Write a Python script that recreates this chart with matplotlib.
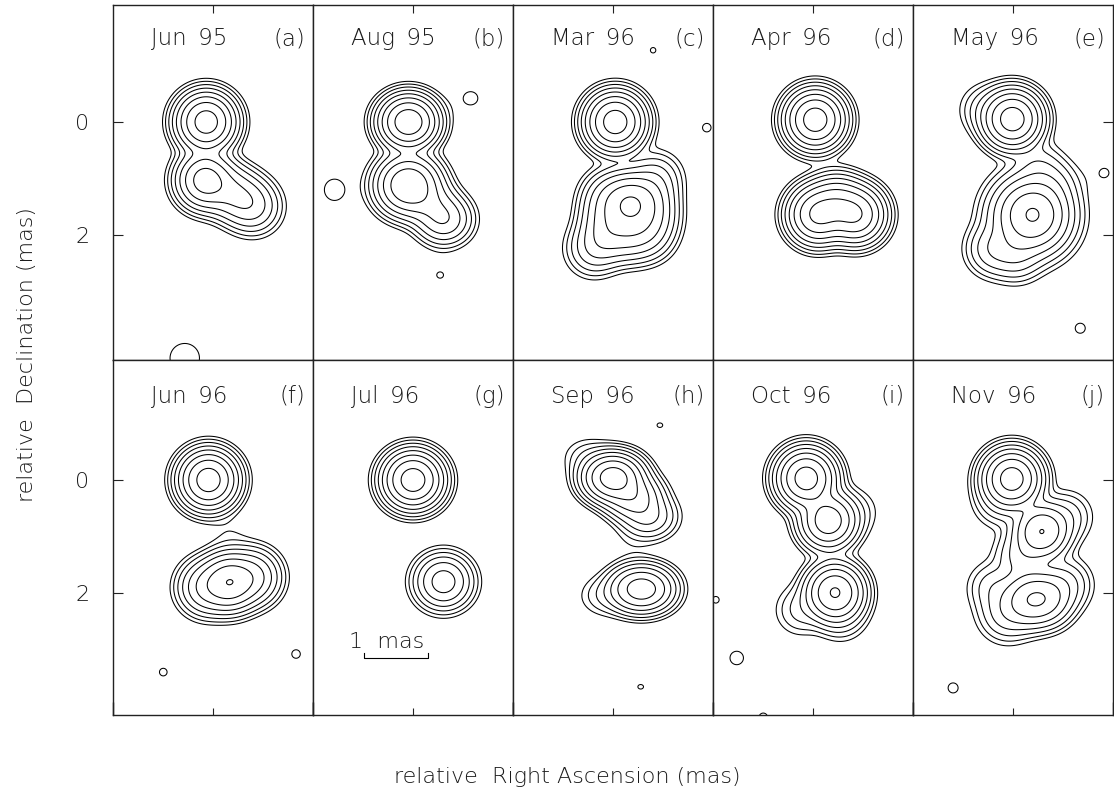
import numpy as np
import matplotlib
matplotlib.use("Agg")
import matplotlib.pyplot as plt

# ---------------- data ----------------
dates = ["Jun\u200295", "Aug\u200295", "Mar\u200296", "Apr\u200296", "May\u200296",
         "Jun\u200296", "Jul\u200296", "Sep\u200296", "Oct\u200296", "Nov\u200296"]
letters = ["(a)", "(b)", "(c)", "(d)", "(e)", "(f)", "(g)", "(h)", "(i)", "(j)"]
levels = [1, 2, 4, 8, 16, 32, 64, 128, 256]
ytick_vals = [0, 2]
# restoring beam per epoch: (sigma RA, sigma Dec) in mas
beams = [(0.24, 0.24), (0.24, 0.22), (0.24, 0.24), (0.24, 0.24), (0.24, 0.24),
         (0.24, 0.24), (0.245, 0.235), (0.25, 0.20), (0.24, 0.24), (0.24, 0.24)]

# components: (RA offset mas, Dec offset mas, peak, intrinsic size mas)
comps_a = [(0.12, 0.00, 180, 0), (0.14, 1.03, 90, 0), (-0.25, 1.20, 22, 0),
           (-0.50, 1.35, 20, 0), (-0.72, 1.50, 17, 0), (0.50, 4.18, 1.8, 0)]
comps_b = [(0.08, 0.00, 210, 0), (0.08, 1.12, 125, 0.12), (-0.30, 1.45, 20, 0),
           (-0.55, 1.72, 30, 0), (1.39, 1.06, 0.5, 0), (1.39, 1.20, 0.5, 0),
           (1.39, 1.34, 0.5, 0), (-1.02, -0.42, 1.15, 0), (-0.48, 2.71, 1.03, 0)]
comps_c = [(-0.04, 0.00, 185, 0), (-0.30, 1.45, 75, 0),
           (0.05, 1.35, 27, 0), (-0.30, 1.35, 27, 0), (-0.62, 1.35, 27, 0),
           (0.08, 1.70, 27, 0), (-0.30, 1.70, 27, 0), (-0.65, 1.68, 27, 0),
           (0.10, 2.02, 27, 0), (-0.28, 2.00, 25, 0), (-0.60, 1.98, 18, 0),
           (0.35, 2.25, 12, 0), (-0.75, 1.00, 10, 0),
           (-1.66, 0.10, 1.05, 0), (-0.71, -1.27, 1.02, 0)]
comps_d = [(-0.04, -0.04, 185, 0), (-0.08, 1.64, 140, 0), (-0.76, 1.64, 128, 0),
           (-0.42, 1.46, 85, 0)]
comps_e = [(0.01, -0.05, 185, 0), (0.50, -0.22, 5, 0), (-0.32, 1.66, 100, 0.24),
           (-0.38, 1.62, 38, 0), (0.35, 2.25, 14, 0), (-0.05, 2.35, 12, 0),
           (-0.72, 1.10, 6, 0), (-0.45, 0.80, 6, 0),
           (-1.62, 0.90, 1.05, 0), (-1.19, 3.65, 1.07, 0)]
comps_f = [(0.08, 0.00, 185, 0), (0.12, 1.90, 35, 0), (-0.29, 1.81, 114, 0),
           (-0.70, 1.72, 40, 0), (-0.30, 1.00, 0.9, 0),
           (0.88, 3.40, 1.04, 0), (-1.47, 3.08, 1.05, 0)]
comps_g = [(0.00, 0.00, 185, 0), (-0.54, 1.80, 45, 0)]
comps_h = [(0.00, -0.04, 190, 0), (-0.35, 0.30, 50, 0), (-0.62, 0.65, 18, 0),
           (0.45, -0.40, 3, 0), (-0.40, 1.93, 55, 0), (-0.62, 1.93, 50, 0),
           (0.15, 2.05, 3.5, 0), (-0.30, 1.15, 0.6, 0),
           (-0.83, -0.97, 1.02, 0), (-0.49, 3.66, 1.02, 0)]
comps_i = [(0.12, -0.03, 180, 0), (-0.27, 0.72, 100, 0), (-0.39, 1.99, 135, 0),
           (-0.78, 0.55, 2, 0), (-0.50, 2.40, 5, 0), (0.22, 2.30, 5, 0),
           (1.35, 3.15, 1.13, 0), (0.88, 4.20, 1.05, 0), (1.72, 2.12, 1.03, 0)]
comps_j = [(0.02, -0.02, 180, 0), (-0.51, 0.91, 63.4, 0), (-0.28, 2.12, 45, 0),
           (-0.58, 2.10, 40, 0), (0.25, 0.40, 5, 0.05), (-0.15, 1.35, 10, 0.05),
           (0.10, 2.35, 12, 0.1), (-0.95, 0.65, 6, 0), (-0.92, 1.85, 10, 0),
           (0.35, 1.90, 6, 0), (1.06, 3.68, 1.07, 0)]
components = [comps_a, comps_b, comps_c, comps_d, comps_e,
              comps_f, comps_g, comps_h, comps_i, comps_j]

# ---------------- layout ----------------
W, H = 1114, 791
plt.rcParams["font.family"] = ["DejaVu Sans"]
fig = plt.figure(figsize=(W / 100, H / 100), dpi=100)
FS = 16
TXT = "#1a1a1a"
FW = "light"

ra = np.linspace(-1.85, 1.85, 460)
de = np.linspace(-2.25, 4.3, 820)
RA, DE = np.meshgrid(ra, de)

row_top = [5, 360]
row_zero = [122, 480]
ppm = 56.5  # pixels per mas
xhalf = 100 / ppm

for i in range(10):
    r, c = divmod(i, 5)
    top_px = row_top[r]
    ax = fig.add_axes([(113 + 200 * c) / W, 1 - (top_px + 355) / H, 200 / W, 355 / H])
    sx, sy = beams[i]
    field = np.zeros_like(RA)
    for (x0, y0, p, s) in components[i]:
        vx = sx ** 2 + s ** 2
        vy = sy ** 2 + s ** 2
        field += p * np.exp(-(RA - x0) ** 2 / (2 * vx) - (DE - y0) ** 2 / (2 * vy))
    ax.contour(RA, DE, field, levels=levels, colors="black", linewidths=0.75)

    ytop = (top_px - row_zero[r]) / ppm
    ybot = (top_px + 355 - row_zero[r]) / ppm
    ax.set_xlim(xhalf, -xhalf)
    ax.set_ylim(ybot, ytop)

    for sp in ax.spines.values():
        sp.set_linewidth(1.0)
        sp.set_color("#222222")

    ax.set_xticks([0])
    ax.set_yticks(ytick_vals)
    ax.tick_params(axis="both", which="both", direction="in", width=0.8,
                   color="#222222", labelsize=FS, labelcolor=TXT,
                   top=False, bottom=False, left=False, right=False,
                   labelbottom=False, labelleft=False)
    if r == 0:
        ax.tick_params(axis="x", which="major", top=True, length=5.5)
    else:
        ax.tick_params(axis="x", which="major", bottom=True, length=5)
        ax.set_xticks([xhalf, -xhalf], minor=True)
        ax.tick_params(axis="x", which="minor", bottom=True, length=9.5, width=1.0)
    if c == 0:
        ax.tick_params(axis="y", which="major", left=True, labelleft=True,
                       length=7.2, pad=17)
        for lab in ax.get_yticklabels():
            lab.set_fontweight(FW)
    if c == 4:
        ax.tick_params(axis="y", which="major", right=True, length=7.2)

    base = 0.887 if r == 0 else 0.879
    ax.text(0.19, base, dates[i], transform=ax.transAxes, ha="left",
            va="baseline", fontsize=16.5, color=TXT, fontweight=FW)
    ax.text(0.96, base, letters[i], transform=ax.transAxes, ha="right",
            va="baseline", fontsize=16.5, color=TXT, fontweight=FW)

    if i == 6:
        # 1 mas scale bar
        x1, x2, yb = 0.867, -0.265, 3.15
        ax.plot([x1, x1, x2, x2], [yb - 0.08, yb, yb, yb - 0.08], color="black", lw=0.8)
        ax.text(1.13, 2.97, "1  mas", ha="left", va="baseline", fontsize=FS,
                color=TXT, fontweight=FW)

fig.text(27 / W, 1 - 354 / H, "relative  Declination (mas)", rotation=90,
         ha="center", va="center", fontsize=FS, color=TXT, fontweight=FW)
fig.text(567 / W, 1 - 783 / H, "relative  Right Ascension (mas)", ha="center",
         va="baseline", fontsize=FS, color=TXT, fontweight=FW)

fig.savefig("out.png", dpi=100, facecolor="white")
